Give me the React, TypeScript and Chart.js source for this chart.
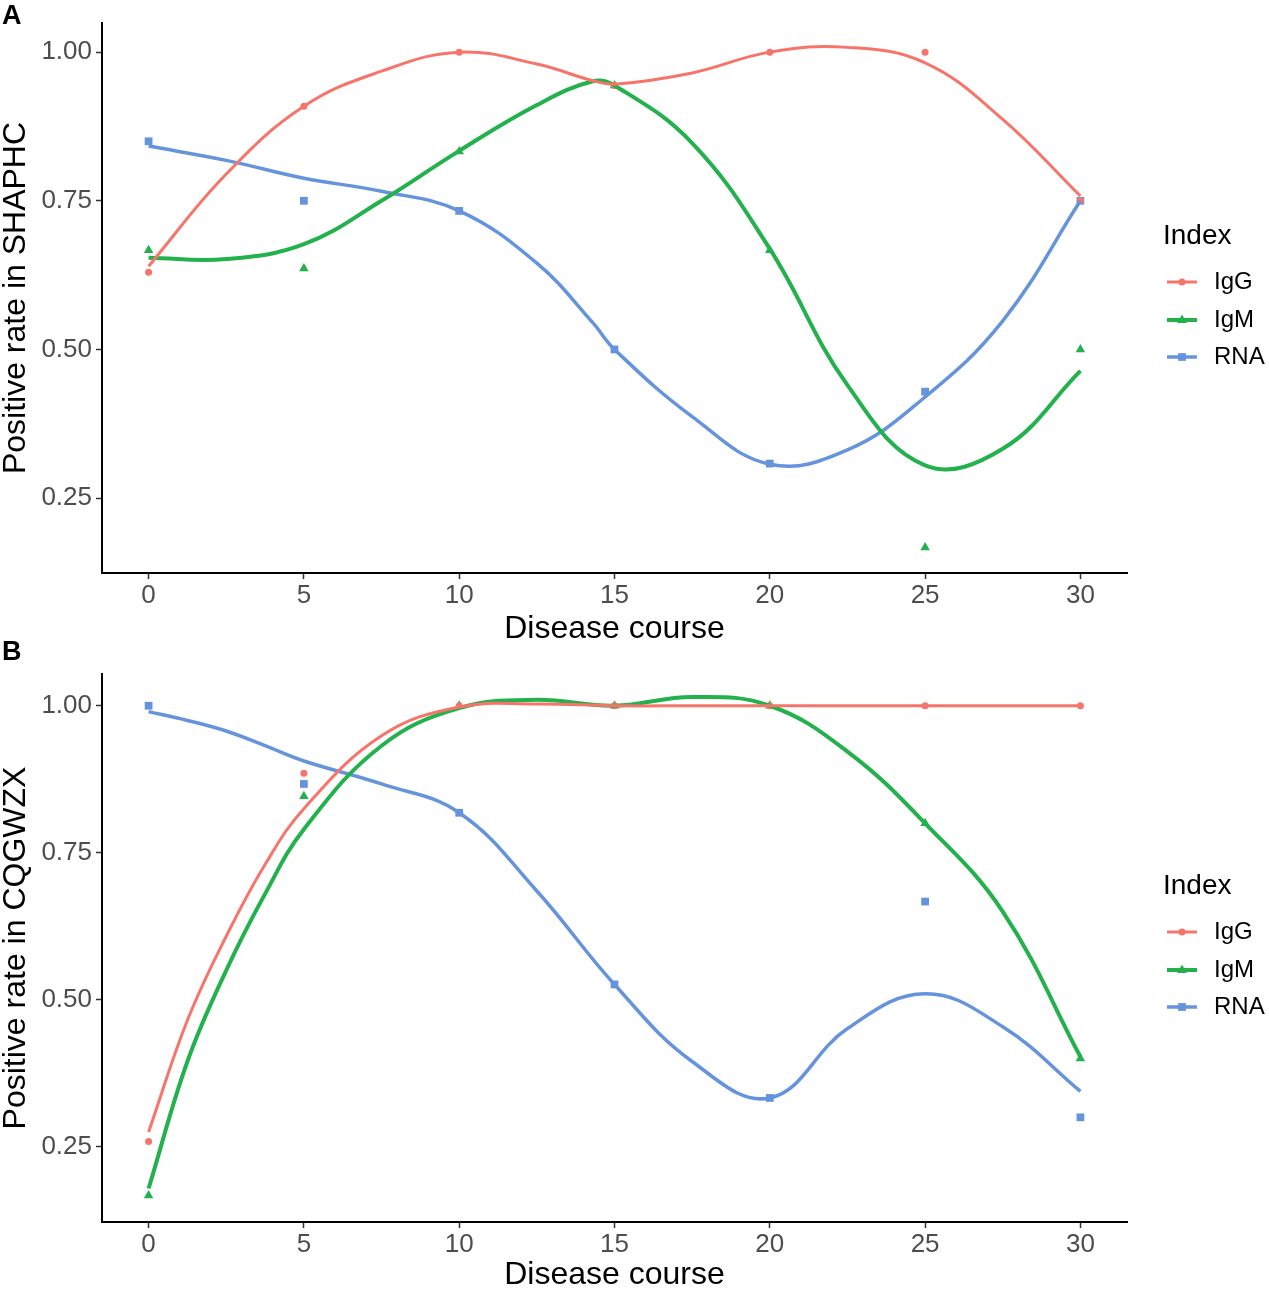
import React, { useEffect, useRef } from 'react';
import { Chart, registerables } from 'chart.js';

Chart.register(...registerables);

const FONT = '"Liberation Sans", Arial, Helvetica, sans-serif';

// ---------- data ----------
const SERIES_NAMES = ['IgG', 'IgM', 'RNA'];
const DAYS = [0, 5, 10, 15, 20, 25, 30];
const X_TICKS = [0, 5, 10, 15, 20, 25, 30];
const Y_TICKS = [0.25, 0.5, 0.75, 1.0];

// Panel A (SHAPHC) observed rates
const A_IGG = [0.63, 0.909, 1.0, 0.944, 1.0, 1.0, 0.75];
const A_IGM = [0.667, 0.636, 0.833, 0.944, 0.667, 0.167, 0.5];
const A_RNA = [0.85, 0.75, 0.733, 0.5, 0.308, 0.429, 0.75];

// Panel A smoothed curves
const A_FIT_X = [0, 2.5, 5, 7.5, 10, 12.5, 14.3, 15, 17.5, 20, 22.5, 25, 27.5, 30];
const A_IGG_FIT = [0.64, 0.795, 0.909, 0.968, 1.0, 0.98, 0.952, 0.946, 0.965, 1.0, 1.008, 0.982, 0.887, 0.758];
const A_IGM_FIT = [0.654, 0.652, 0.677, 0.75, 0.834, 0.911, 0.951, 0.944, 0.847, 0.669, 0.44, 0.305, 0.333, 0.464];
const A_RNA_FIT = [0.842, 0.818, 0.788, 0.766, 0.733, 0.645, 0.545, 0.5, 0.387, 0.307, 0.331, 0.42, 0.548, 0.75];

// Panel B (CQGWZX) observed rates
const B_IGG = [0.259, 0.885, 1.0, 1.0, 1.0, 1.0, 1.0];
const B_IGM = [0.167, 0.846, 1.0, 1.0, 1.0, 0.8, 0.4];
const B_RNA = [1.0, 0.867, 0.818, 0.526, 0.333, 0.667, 0.3];

// Panel B smoothed curves
const B_FIT_X = [0, 1.25, 2.5, 3.75, 5, 7.5, 10, 12.5, 15, 17.5, 20, 22.5, 25, 27.5, 30];
const B_IGG_FIT = [0.275, 0.465, 0.608, 0.73, 0.825, 0.949, 0.998, 1.003, 1.0, 1.0, 1.0, 1.0, 1.0, 1.0, 1.0];
const B_IGM_FIT = [0.179, 0.395, 0.55, 0.68, 0.79, 0.932, 0.996, 1.01, 1.0, 1.015, 1.0, 0.922, 0.8, 0.65, 0.403];
const B_RNA_FIT = [0.99, 0.975, 0.957, 0.932, 0.906, 0.867, 0.818, 0.685, 0.526, 0.395, 0.333, 0.451, 0.51, 0.454, 0.344];

// ---------- styles ----------
const COLORS = ['#F7746B', '#22B14C', '#6694DC'];
const SHAPES = ['circle', 'triangle', 'rect'];
const POINT_R = [3.5, 5.5, 5.5];
const LINE_W = [3, 4, 3.5];

type PanelProps = {
  top: number;
  height: number;
  padTop: number;
  xAxisH: number;
  yMin: number;
  yMax: number;
  yTitle: string;
  points: number[][];
  fitX: number[];
  fits: number[][];
};

function drawMarker(ctx: CanvasRenderingContext2D, shape: string, x: number, y: number, r: number) {
  ctx.beginPath();
  if (shape === 'circle') {
    ctx.arc(x, y, r, 0, Math.PI * 2);
  } else if (shape === 'triangle') {
    ctx.moveTo(x, y - r);
    ctx.lineTo(x + r * 0.9, y + r * 0.55);
    ctx.lineTo(x - r * 0.9, y + r * 0.55);
    ctx.closePath();
  } else {
    const s = r / Math.SQRT2;
    ctx.rect(x - s, y - s, 2 * s, 2 * s);
  }
  ctx.fill();
}

const legendPlugin = {
  id: 'indexLegend',
  afterDraw(chart: any) {
    const { ctx, chartArea } = chart;
    const cy = (chartArea.top + chartArea.bottom) / 2;
    ctx.save();
    ctx.textBaseline = 'middle';
    ctx.textAlign = 'left';
    ctx.fillStyle = '#000';
    ctx.font = `28px ${FONT}`;
    ctx.fillText('Index', 1163, cy - 62);
    const offs = [-16, 22, 59];
    SERIES_NAMES.forEach((name, i) => {
      const y = cy + offs[i];
      ctx.strokeStyle = COLORS[i];
      ctx.fillStyle = COLORS[i];
      ctx.lineWidth = LINE_W[i];
      ctx.beginPath();
      ctx.moveTo(1167, y);
      ctx.lineTo(1197, y);
      ctx.stroke();
      drawMarker(ctx, SHAPES[i], 1182, y, POINT_R[i]);
      ctx.fillStyle = '#000';
      ctx.font = `24px ${FONT}`;
      ctx.fillText(name, 1214, y);
    });
    ctx.restore();
  },
};

function Panel(p: PanelProps) {
  const ref = useRef<HTMLCanvasElement | null>(null);
  useEffect(() => {
    if (!ref.current) return;
    const datasets: any[] = [];
    SERIES_NAMES.forEach((name, i) => {
      datasets.push({
        type: 'line',
        label: name + ' fit',
        data: p.fitX.map((x, j) => ({ x, y: p.fits[i][j] })),
        borderColor: COLORS[i],
        borderWidth: LINE_W[i],
        pointRadius: 0,
        tension: 0.4,
        fill: false,
        order: 0,
      });
    });
    SERIES_NAMES.forEach((name, i) => {
      datasets.push({
        type: 'scatter',
        label: name,
        data: DAYS.map((x, j) => ({ x, y: p.points[i][j] })),
        pointStyle: SHAPES[i],
        pointRadius: POINT_R[i],
        backgroundColor: COLORS[i],
        borderColor: COLORS[i],
        borderWidth: 0,
        showLine: false,
        order: 1,
      });
    });
    const tickFont = { family: FONT, size: 26 };
    const chart = new Chart(ref.current, {
      type: 'scatter',
      data: { datasets },
      plugins: [legendPlugin],
      options: {
        responsive: false,
        animation: false,
        layout: { padding: { top: p.padTop, right: 142, left: 0, bottom: 0 } },
        plugins: { legend: { display: false }, tooltip: { enabled: false } },
        scales: {
          x: {
            type: 'linear',
            min: -1.5,
            max: 31.5,
            afterBuildTicks: (s: any) => {
              s.ticks = X_TICKS.map((v) => ({ value: v }));
            },
            afterFit: (s: any) => {
              s.height = p.xAxisH;
            },
            ticks: {
              font: tickFont,
              color: '#4D4D4D',
              padding: 1,
              maxRotation: 0,
              autoSkip: false,
              callback: (v: any) => String(v),
            },
            grid: {
              display: true,
              drawOnChartArea: false,
              drawTicks: true,
              tickLength: 6,
              tickColor: '#333333',
              tickWidth: 1.5,
            },
            border: { display: true, color: '#000', width: 2 },
            title: { display: true, text: 'Disease course', font: { family: FONT, size: 32, lineHeight: 1 }, color: '#000', padding: 0 },
          },
          y: {
            type: 'linear',
            min: p.yMin,
            max: p.yMax,
            afterBuildTicks: (s: any) => {
              s.ticks = Y_TICKS.map((v) => ({ value: v }));
            },
            afterFit: (s: any) => {
              s.width = 102;
            },
            ticks: {
              font: tickFont,
              color: '#4D4D4D',
              padding: 4,
              callback: (v: any) => Number(v).toFixed(2),
            },
            grid: {
              display: true,
              drawOnChartArea: false,
              drawTicks: true,
              tickLength: 6,
              tickColor: '#333333',
              tickWidth: 1.5,
            },
            border: { display: true, color: '#000', width: 2 },
            title: { display: true, text: p.yTitle, font: { family: FONT, size: 32, lineHeight: 1 }, color: '#000', padding: 0 },
          },
        },
      } as any,
    });
    return () => chart.destroy();
  }, []);
  return (
    <canvas
      ref={ref}
      width={1269}
      height={p.height}
      style={{ position: 'absolute', left: 0, top: p.top, width: 1269, height: p.height }}
    />
  );
}

const letterStyle: React.CSSProperties = {
  position: 'absolute',
  left: 2,
  fontFamily: FONT,
  fontWeight: 'bold',
  fontSize: 27,
  lineHeight: '27px',
  color: '#000',
};

export default function App() {
  return (
    <div style={{ position: 'absolute', left: 0, top: 0, width: 1269, height: 1291, background: '#fff' }}>
      <Panel
        top={0}
        height={645}
        padTop={23}
        xAxisH={72}
        yMin={0.124}
        yMax={1.049}
        yTitle="Positive rate in SHAPHC"
        points={[A_IGG, A_IGM, A_RNA]}
        fitX={A_FIT_X}
        fits={[A_IGG_FIT, A_IGM_FIT, A_RNA_FIT]}
      />
      <Panel
        top={645}
        height={646}
        padTop={29}
        xAxisH={69}
        yMin={0.122}
        yMax={1.054}
        yTitle="Positive rate in CQGWZX"
        points={[B_IGG, B_IGM, B_RNA]}
        fitX={B_FIT_X}
        fits={[B_IGG_FIT, B_IGM_FIT, B_RNA_FIT]}
      />
      <div style={{ ...letterStyle, top: 2 }}>A</div>
      <div style={{ ...letterStyle, top: 638 }}>B</div>
    </div>
  );
}
